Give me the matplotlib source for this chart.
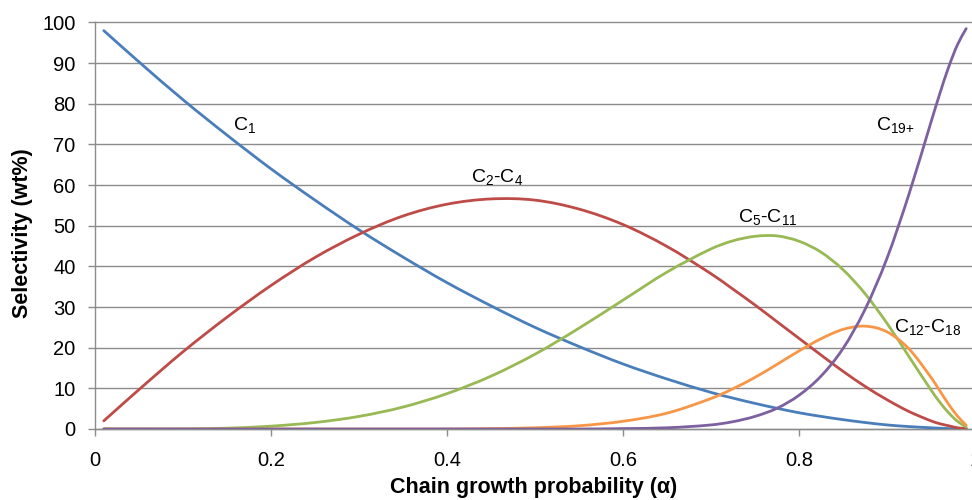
import matplotlib
matplotlib.use("Agg")
import matplotlib.pyplot as plt
from matplotlib.path import Path
from matplotlib.patches import PathPatch

plt.rcParams['font.family'] = ['Liberation Sans', 'DejaVu Sans']
plt.rcParams['mathtext.fontset'] = 'custom'
plt.rcParams['mathtext.rm'] = 'Liberation Sans'
plt.rcParams['mathtext.it'] = 'Liberation Sans'
plt.rcParams['mathtext.default'] = 'rm'

# chain growth probability
alpha = [0.01, 0.05, 0.10, 0.15, 0.20, 0.25, 0.30, 0.35, 0.40, 0.45, 0.50,
         0.55, 0.60, 0.65, 0.70, 0.725, 0.75, 0.775, 0.80, 0.825, 0.85,
         0.875, 0.90, 0.925, 0.95, 0.96, 0.97, 0.98, 0.99]

# selectivity, wt%
c1 = [98.0, 90.3, 81.0, 72.3, 64.0, 56.3, 49.0, 42.3, 36.0, 30.3, 25.0,
      20.3, 16.0, 12.3, 9.0, 7.6, 6.3, 5.1, 4.0, 3.1, 2.3,
      1.6, 1.0, 0.6, 0.3, 0.2, 0.1, 0.0, 0.0]
c2_c4 = [2.0, 9.7, 19.0, 27.5, 35.3, 42.2, 47.9, 52.4, 55.3, 56.6, 56.3,
         54.1, 50.3, 44.9, 38.2, 34.4, 30.5, 26.4, 22.3, 18.2, 14.2,
         10.5, 7.2, 4.3, 2.0, 1.3, 0.8, 0.3, 0.1]
c5_c11 = [0.0, 0.0, 0.0, 0.2, 0.7, 1.6, 3.1, 5.4, 8.7, 13.0, 18.4,
          24.8, 31.7, 38.6, 44.3, 46.3, 47.4, 47.5, 46.2, 43.5, 39.2,
          33.3, 26.0, 17.8, 9.6, 6.6, 4.0, 1.9, 0.5]
c12_c18 = [0.0, 0.0, 0.0, 0.0, 0.0, 0.0, 0.0, 0.0, 0.0, 0.1, 0.3,
           0.8, 1.9, 3.9, 7.5, 9.9, 12.7, 15.9, 19.2, 22.2, 24.5,
           25.3, 23.9, 19.7, 12.7, 9.4, 6.1, 3.2, 0.9]
c19 = [0.0, 0.0, 0.0, 0.0, 0.0, 0.0, 0.0, 0.0, 0.0, 0.0, 0.0,
       0.0, 0.1, 0.3, 1.0, 1.8, 3.1, 5.1, 8.3, 13.0, 19.8,
       29.4, 42.0, 57.8, 75.5, 82.5, 89.0, 94.5, 98.5]

series = [c1, c2_c4, c5_c11, c12_c18, c19]
colors = ['#4a7ebb', '#be4b48', '#98b954', '#f79646', '#7d60a0']

labels = [r'C$_{1}$', r'C$_{2}$-C$_{4}$', r'C$_{5}$-C$_{11}$',
          r'C$_{12}$-C$_{18}$', r'C$_{19{+}}$']
label_pos = [(0.157, 74.8, 'left'), (0.457, 62.0, 'center'),
             (0.765, 52.2, 'center'), (0.908, 25.1, 'left'),
             (0.887, 74.8, 'left')]


def smooth_path(xs, ys):
    # smoothed line: cubic Bezier segments with finite-difference tangents
    n = len(xs)
    slopes = []
    for i in range(n):
        a = max(i - 1, 0)
        b = min(i + 1, n - 1)
        slopes.append((ys[b] - ys[a]) / (xs[b] - xs[a]))
    verts = [(xs[0], ys[0])]
    codes = [Path.MOVETO]
    for i in range(n - 1):
        h = xs[i + 1] - xs[i]
        verts.append((xs[i] + h / 3, ys[i] + slopes[i] * h / 3))
        verts.append((xs[i + 1] - h / 3, ys[i + 1] - slopes[i + 1] * h / 3))
        verts.append((xs[i + 1], ys[i + 1]))
        codes += [Path.CURVE4] * 3
    return Path(verts, codes)


fig = plt.figure(figsize=(9.72, 5.0), dpi=100)
ax = fig.add_axes([95 / 972, 71 / 500, 880 / 972, 406.5 / 500])

grid_c = '#8c8c8c'
ax.set_axisbelow(True)
ax.yaxis.grid(True, color=grid_c, linewidth=1.0)

for ys, c in zip(series, colors):
    ax.add_patch(PathPatch(smooth_path(alpha, ys), facecolor='none',
                           edgecolor=c, linewidth=2.0, capstyle='round',
                           joinstyle='round', zorder=3))

for (x, y, ha), txt in zip(label_pos, labels):
    ax.text(x, y, txt, fontsize=14, ha=ha, va='center')

ax.set_xlim(0, 1)
ax.set_ylim(0, 100)
ax.set_xticks([0, 0.2, 0.4, 0.6, 0.8, 1])
ax.set_xticklabels(['0', '0.2', '0.4', '0.6', '0.8', '1'])
ax.set_yticks(range(0, 101, 10))
for gl in ax.get_ygridlines():
    gl.set_clip_on(False)

for s in ['top', 'right']:
    ax.spines[s].set_visible(False)
for s in ['left', 'bottom']:
    ax.spines[s].set_color(grid_c)
    ax.spines[s].set_linewidth(1.0)

ax.tick_params(axis='y', length=5, width=1.0, color=grid_c, pad=9, labelsize=14.5)
ax.tick_params(axis='x', length=5, width=1.0, color=grid_c, pad=11, labelsize=14.5)

ax.set_xlabel('Chain growth probability (α)', fontsize=15.5, fontweight='bold',
              va='center')
ax.set_ylabel('Selectivity (wt%)', fontsize=15.5, fontweight='bold',
              va='center')
ax.xaxis.set_label_coords(0.499, -0.144)
ax.yaxis.set_label_coords(-0.0824, 0.482)

fig.savefig('out.png', dpi=100)
